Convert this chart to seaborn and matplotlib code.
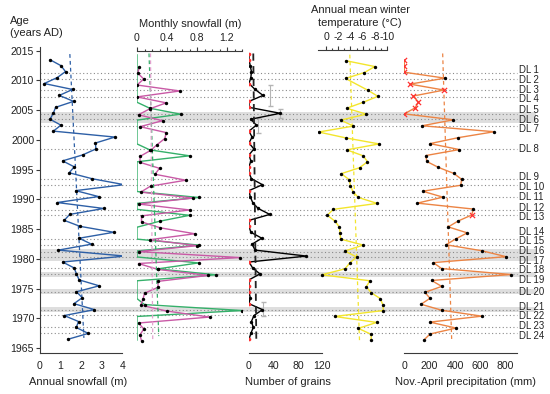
import numpy as np
import matplotlib
matplotlib.use("Agg")
import matplotlib.pyplot as plt
import seaborn as sns
from matplotlib.ticker import FixedLocator

# ---------------- data ----------------
annual_years = np.arange(2013, 1965, -1)
annual_snowfall = [0.50, 1.03, 1.25, 0.85, 0.22, 1.59, 0.95, 1.64, 0.77, 0.66,
                   0.50, 1.03, 0.66, 3.64, 2.70, 2.72, 2.08, 1.11, 1.67, 1.43,
                   2.54, 4.09, 1.74, 2.85, 0.85, 3.10, 1.45, 1.19, 1.95, 3.59,
                   1.91, 2.51, 0.90, 4.12, 1.11, 1.67, 1.78, 1.91, 2.88, 1.78,
                   2.06, 1.66, 2.65, 1.19, 1.88, 1.77, 2.35, 1.35]
annual_trend_years = [2014.4, 1966.7]
annual_trend = [1.46, 2.14]

green_years = np.arange(2014, 1965, -1)
monthly_green = [0, 0, 0, 0, 0, 0, 0, 0, 0, 0.17,
                 0.58, 0, 0, 0, 0, 0, 0.17, 0.70, 0, 0,
                 0, 0, 0, 0, 0.82, 0, 0, 0.70, 0.30, 0,
                 0, 0, 0.82, 0, 0, 0.82, 0.28, 1.05, 0, 0,
                 0, 0, 0.10, 1.40, 0, 0, 0, 0, 0]
magenta_years = np.arange(2012, 1965, -1)
monthly_magenta = [0.03, 0.01, 0.09, 0.0, 0.57, 0.0, 0.39, 0.17, 0.02, 0.34,
                   0.04, 0.39, 0.37, 0.27, 0.18, 0.04, 0.04, 0.30, 0.24, 0.65,
                   0.18, 0.05, 0.75, 0.02, 0.70, 0.06, 0.06, 0.31, 0.77, 0.17,
                   0.80, 0.02, 1.37, 0.02, 0.28, 0.95, 0.28, 0.28, 0.10, 0.08,
                   0.05, 0.40, 0.97, 0.02, 0.09, 0.04, 0.06]
green_trend_years = [2014.5, 1967.0]
green_trend = [0.16, 0.29]
magenta_trend_years = [2014.5, 1966.0]
magenta_trend = [0.18, 0.21]

grain_years = np.arange(2014, 1965, -1)
grains = [0, 0, 2, 4, 3, 0, 10, 23, 0, 0,
          51, 3, 12, 0, 5, 0, 8, 0, 3, 0,
          0, 4, 22, 0, 2, 6, 15, 34, 0, 0,
          3, 21, 5, 10, 94, 0, 6, 18, 0, 0,
          0, 2, 0, 22, 8, 4, 7, 3, 0]
grain_trend_years = [2014.5, 1966.0]
grain_trend = [7, 12]
grain_err_years = [2007.4, 2004.4, 2002.4, 1971.6]
grain_err_vals = [35, 50, 15, 23]
grain_err_size = [1.8, 0.8, 1.3, 1.2]

temp_years = np.arange(2013, 1965, -1)
temperature = [-3.2, -8.0, -6.3, -3.2, np.nan, -6.9, -8.5, -6.1, -3.4, -6.6,
               -2.4, -4.5, 1.2, -3.3, -8.7, -3.4, -6.1, -6.8, -5.5, -2.5,
               -3.8, -4.0, -4.4, -5.3, -8.4, -1.2, -0.2, -1.5, -2.2, -2.3,
               -2.4, -6.1, -3.1, -5.0, -3.9, -3.1, 0.7, -7.2, -6.6, -7.4,
               -8.9, -9.3, -9.4, -1.4, -8.3, -5.3, -7.4, -7.4]
temp_trend_years = [2014.3, 1966.0]
temp_trend = [-3.9, -5.5]

precip_years = np.arange(2013, 1965, -1)
precipitation = [0, 0, 0, 321, 45, 313, 71, 111, 85, 0,
                 387, 140, 710, 426, 203, 434, 171, 177, 270, 390,
                 453, 445, 145, 305, 103, 545, 532, 426, 347, 497,
                 408, 329, 611, 803, 229, 295, 842, 216, 295, 163,
                 203, 132, 295, 611, 203, 408, 203, 155]
precip_estimated = [2013, 2012, 2011, 2009, 2008, 2007, 2006, 2005, 2004, 1987]
precip_trend_years = [2014.5, 1966.5]
precip_trend = [303, 374]

dl_labels = [f"DL {i}" for i in range(1, 25)]
dl_years = [2011.3, 2010.2, 2008.3, 2007.2, 2004.4, 2003.5, 2002.3, 1998.4,
            1993.4, 1992.35, 1990.4, 1988.2, 1987.35, 1983.4, 1982.3, 1981.2,
            1980.3, 1978.4, 1977.4, 1974.4, 1971.4, 1970.5, 1968.6, 1967.5]
band_ranges = [(2002.8, 2004.7), (1979.6, 1981.7), (1976.9, 1977.8),
               (1974.0, 1974.9), (1971.0, 1971.9)]
year_ticks = [1965, 1970, 1975, 1980, 1985, 1990, 1995, 2000, 2005, 2010, 2015]

# ---------------- style ----------------
sns.set_theme(style="white")
plt.rcParams['font.family'] = ['Liberation Sans', 'DejaVu Sans']
plt.rcParams['axes.unicode_minus'] = False
TXT = "#222222"
SP = "#3a3a3a"
BLUE = "#2d5fa6"
GREEN = "#35b06a"
MAG = "#c95aa6"
YEL = "#f3e52c"
ORA = "#ec8444"
RED = "#ff3030"

W, H = 550, 394
fig = plt.figure(figsize=(W / 100, H / 100), dpi=100)


def year_at(ypx):
    return 2015 - (ypx - 50.5) / 5.95


def px_at(year):
    return 50.5 + (2015 - year) * 5.95


def make_ax(x0, x1, ytop, ybot, xlim):
    ax = fig.add_axes([x0 / W, 1 - ybot / H, (x1 - x0) / W, (ybot - ytop) / H])
    ax.set_xlim(*xlim)
    ax.set_ylim(year_at(ybot), year_at(ytop))
    ax.patch.set_alpha(0)
    for s in ax.spines.values():
        s.set_visible(False)
        s.set_color(SP)
        s.set_linewidth(0.8)
    ax.set_yticks([])
    return ax


def style_x(ax, major, minor, labels, top=False):
    ax.xaxis.set_major_locator(FixedLocator(major))
    ax.xaxis.set_minor_locator(FixedLocator(minor))
    ax.set_xticklabels(labels)
    if top:
        ax.xaxis.tick_top()
        ax.spines['top'].set_visible(True)
    else:
        ax.spines['bottom'].set_visible(True)
    ax.tick_params(axis='x', which='major', length=3.2, width=0.8, color=SP,
                   direction='out', labelsize=7.6, labelcolor=TXT, pad=2.5)
    ax.tick_params(axis='x', which='minor', length=1.8, width=0.8, color=SP,
                   direction='out')
    ax.set_xlabel("")
    ax.set_ylabel("")


def spread(targets, gap):
    p = list(targets)
    for _ in range(400):
        moved = False
        for i in range(1, len(p)):
            d = p[i] - p[i - 1]
            if d < gap - 1e-6:
                s = (gap - d) / 2
                p[i - 1] -= s
                p[i] += s
                moved = True
        if not moved:
            break
    return p


# ---------------- background: bands + DL lines ----------------
bg = make_ax(40, 536, 46.7, 353, (0, 1))
bg.set_xticks([])
for lo, hi in band_ranges:
    bg.axhspan(lo, hi, color="#dedede", lw=0, zorder=0)
line_end = (517 - 40) / 496
for yv in dl_years:
    bg.axhline(yv, xmin=0, xmax=line_end, color="#8a8a8a", lw=0.8,
               ls=(0, (1, 2.2)), zorder=1)
label_px = spread([px_at(y) for y in dl_years], 9.6)
for p, lab in zip(label_px, dl_labels):
    bg.text((519 - 40) / 496, year_at(p), lab, fontsize=6.9, color=TXT,
            va='center', ha='left')

# ---------------- panel 1: annual snowfall ----------------
ax1 = make_ax(39.7, 122.3, 46.7, 353, (0, 4))
sns.lineplot(x=annual_snowfall, y=annual_years + 0.45, sort=False, estimator=None,
             color=BLUE, lw=1.0, ax=ax1)
sns.scatterplot(x=annual_snowfall, y=annual_years + 0.45, color="black", s=6,
                linewidth=0, ax=ax1, zorder=5)
ax1.plot(annual_trend, annual_trend_years, color=BLUE, lw=0.9, ls=(0, (3, 2.5)))
style_x(ax1, [0, 1, 2, 3, 4], [0.5, 1.5, 2.5, 3.5], ["0", "1", "2", "3", "4"])
ax1.spines['left'].set_visible(True)
ax1.yaxis.set_major_locator(FixedLocator(year_ticks))
ax1.set_yticklabels([str(y) for y in year_ticks])
ax1.tick_params(axis='y', which='major', length=3, width=0.8, color=SP,
                direction='out', labelsize=7.6, labelcolor=TXT, pad=1,
                left=True, labelleft=True)

# ---------------- panel 2: monthly snowfall ----------------
ax2 = make_ax(137, 242, 50.5, 353, (0, 1.4))
gy = green_years + 0.3
my = magenta_years + 0.2
sns.lineplot(x=monthly_green, y=gy, sort=False, estimator=None, color=GREEN,
             lw=1.0, ax=ax2)
sns.lineplot(x=monthly_magenta, y=my, sort=False, estimator=None, color=MAG,
             lw=1.0, ax=ax2)
gmask = np.array(monthly_green) > 0
sns.scatterplot(x=np.array(monthly_green)[gmask], y=gy[gmask], color="black", s=6,
                linewidth=0, ax=ax2, zorder=5)
sns.scatterplot(x=monthly_magenta, y=my, color="black", s=6, linewidth=0,
                ax=ax2, zorder=5)
ax2.plot(green_trend, green_trend_years, color=GREEN, lw=0.9, ls=(0, (3, 2.5)))
ax2.plot(magenta_trend, magenta_trend_years, color="#e2a3cf", lw=0.9,
         ls=(0, (3, 2.5)))
style_x(ax2, [0, 0.4, 0.8, 1.2], [0.1, 0.2, 0.3, 0.5, 0.6, 0.7, 0.9, 1.0, 1.1, 1.3, 1.4],
        ["0", "0.4", "0.8", "1.2"], top=True)

# ---------------- panel 3: grains ----------------
ax3 = make_ax(249, 322.3, 46.7, 353.3, (0, 120))
gry = grain_years + 0.45
garr = np.array(grains)
ax3.errorbar(grain_err_vals, grain_err_years, yerr=grain_err_size, fmt='none',
             ecolor="#b5b5b5", elinewidth=0.8, capsize=1.8, zorder=1)
sns.lineplot(x=grains, y=gry, sort=False, estimator=None, color="black", lw=1.0,
             ax=ax3)
sns.scatterplot(x=garr[garr > 0], y=gry[garr > 0], color="black", s=6,
                linewidth=0, ax=ax3, zorder=5)
sns.scatterplot(x=garr[garr == 0], y=gry[garr == 0], color=RED, s=7,
                linewidth=0, ax=ax3, zorder=5)
ax3.plot(grain_trend, grain_trend_years, color="#222222", lw=1.3,
         ls=(0, (4, 3)))
style_x(ax3, [0, 40, 80, 120], [20, 60, 100], ["0", "40", "80", "120"])

# ---------------- panel 4: temperature ----------------
ax4 = make_ax(318.4, 387, 50, 353, (1.25, -10))
tarr = np.array(temperature)
tyy = temp_years + 0.3
ok = ~np.isnan(tarr)
sns.lineplot(x=tarr[ok], y=tyy[ok], sort=False, estimator=None, color=YEL,
             lw=1.0, ax=ax4)
sns.scatterplot(x=tarr[ok], y=tyy[ok], color="black", s=6, linewidth=0,
                ax=ax4, zorder=5)
ax4.plot(temp_trend, temp_trend_years, color=YEL, lw=0.9, ls=(0, (3, 2.5)))
style_x(ax4, [0, -2, -4, -6, -8, -10], [-1, -3, -5, -7, -9],
        ["0", "-2", "-4", "-6", "-8", "-10"], top=True)

# ---------------- panel 5: precipitation ----------------
ax5 = make_ax(404.3, 517, 46.7, 353, (0, 890))
parr = np.array(precipitation)
pyy = precip_years + 0.35
est = np.isin(precip_years, precip_estimated)
sns.lineplot(x=parr, y=pyy, sort=False, estimator=None, color=ORA, lw=1.0, ax=ax5)
sns.scatterplot(x=parr[~est], y=pyy[~est], color="black", s=6, linewidth=0,
                ax=ax5, zorder=5)
ax5.scatter(parr[est], pyy[est], marker='x', color=RED, s=14, linewidths=0.9,
            zorder=6)
ax5.plot(precip_trend, precip_trend_years, color=ORA, lw=0.9, ls=(0, (3, 2.5)))
style_x(ax5, [0, 200, 400, 600, 800], [100, 300, 500, 700, 890],
        ["0", "200", "400", "600", "800"])

# ---------------- titles ----------------
def ftxt(x, y, s, ha='center', size=8):
    fig.text(x / W, 1 - y / H, s, ha=ha, va='center', fontsize=size, color=TXT)

ftxt(10, 20.5, "Age", ha='left')
ftxt(10, 33.3, "(years AD)", ha='left')
ftxt(190, 24, "Monthly snowfall (m)")
ftxt(360.5, 10, "Annual mean winter")
ftxt(360, 23.5, "temperature (°C)")
ftxt(78.3, 382.3, "Annual snowfall (m)")
ftxt(288.3, 382, "Number of grains")
ftxt(465.3, 382.3, "Nov.-April precipitation (mm)")

fig.savefig("out.png", dpi=100)
